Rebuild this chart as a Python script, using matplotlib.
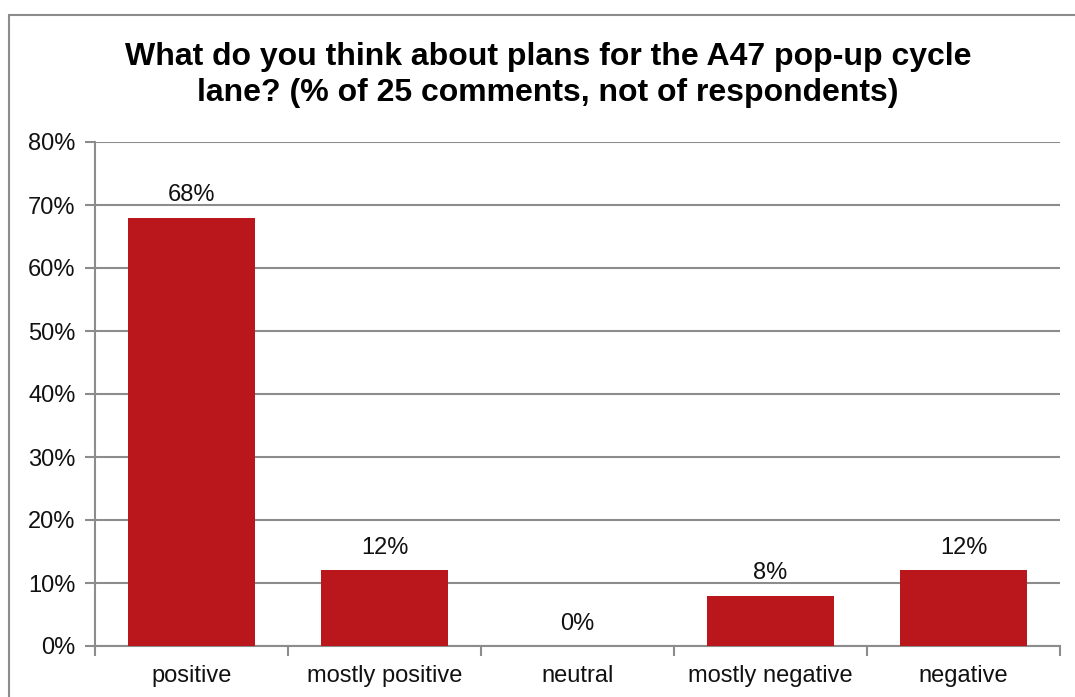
import matplotlib.pyplot as plt
from matplotlib.patches import Rectangle

categories = ["positive", "mostly positive", "neutral", "mostly negative", "negative"]
values = [68, 12, 0, 8, 12]
value_labels = ["68%", "12%", "0%", "8%", "12%"]
y_ticks = [0, 10, 20, 30, 40, 50, 60, 70, 80]
y_tick_labels = ["0%", "10%", "20%", "30%", "40%", "50%", "60%", "70%", "80%"]

plt.rcParams['font.family'] = ['Liberation Sans', 'DejaVu Sans']

bar_color = '#BA171D'
grid_color = '#8C8C8C'

fig = plt.figure(figsize=(10.75, 6.97), dpi=100)
ax = fig.add_axes([95 / 1075, 1 - 646 / 697, (1060 - 95) / 1075, (646 - 142) / 697])

# outer chart frame (right and bottom edges fall outside the image)
fig.patches.append(Rectangle((8.5 / 1075, -0.1), 1.2, 1.1 - 14.5 / 697, transform=fig.transFigure,
                             fill=False, edgecolor='#8C8C8C', linewidth=1.5))

x = range(len(categories))
ax.bar(x, values, width=0.66, color=bar_color, zorder=3)
for xi, v, lab in zip(x, values, value_labels):
    ax.annotate(lab, (xi, v), xytext=(0, 8), textcoords='offset points',
                ha='center', va='bottom', fontsize=17, color='#111111')

ax.set_xlim(-0.5, len(categories) - 0.5)
ax.set_ylim(0, 80)
ax.set_yticks(y_ticks)
ax.set_yticklabels(y_tick_labels)
ax.set_xticks(list(x))
ax.set_xticklabels(categories)
ax.set_xticks([i - 0.5 for i in range(len(categories) + 1)], minor=True)

ax.grid(axis='y', color=grid_color, linewidth=1.5, zorder=0)
for s in ['top', 'right']:
    ax.spines[s].set_visible(False)
for s in ['left', 'bottom']:
    ax.spines[s].set_color(grid_color)
    ax.spines[s].set_linewidth(1.5)

ax.tick_params(axis='y', length=7, width=1.5, color=grid_color, labelsize=17, pad=7, labelcolor='#111111')
ax.tick_params(axis='x', which='major', length=0, labelsize=17, pad=14, labelcolor='#111111')
ax.tick_params(axis='x', which='minor', length=7, width=1.5, color=grid_color)

fig.text(548 / 1075, 1 - 75 / 697,
         "What do you think about plans for the A47 pop-up cycle\nlane? (% of 25 comments, not of respondents)",
         ha='center', va='center', fontsize=23, fontweight='bold', linespacing=1.3)

fig.savefig('out.png', dpi=100)
